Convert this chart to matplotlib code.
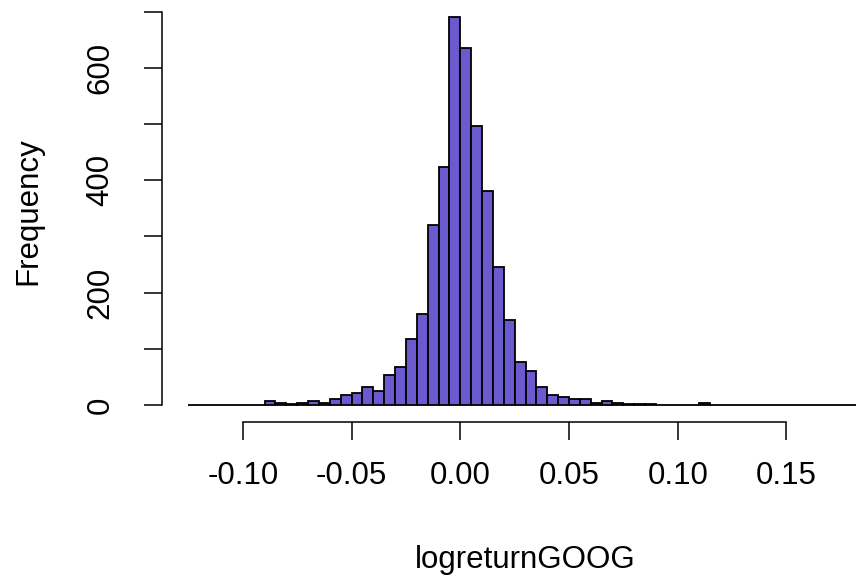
import numpy as np
import matplotlib
matplotlib.use("Agg")
import matplotlib.pyplot as plt

plt.rcParams['font.family'] = ['Liberation Sans', 'DejaVu Sans']

# Histogram bins (left edges) and counts
bin_width = 0.005
bin_start = -0.125
counts = [
    0, 0, 0, 0, 0, 0, 0,            # -0.125 .. -0.095
    7, 3, 2, 3, 7, 4, 11, 18, 21,   # -0.090 .. -0.050
    32, 25, 54, 68, 118, 162, 320, 424, 690,   # -0.045 .. -0.005
    636, 496, 381, 245, 151, 76, 61, 32, 18,   # 0.000 .. 0.040
    14, 11, 11, 4, 7, 3, 2, 2, 2,   # 0.045 .. 0.085
    0, 0, 0, 0, 3,                  # 0.090 .. 0.110
    0, 0, 0, 0, 0, 0, 0, 0, 0, 0, 0, 0, 0, 0,  # 0.115 .. 0.180
]
left_edges = bin_start + bin_width * np.arange(len(counts))

x_ticks = [-0.10, -0.05, 0.00, 0.05, 0.10, 0.15]
x_ticklabels = ["-0.10", "-0.05", "0.00", "0.05", "0.10", "0.15"]
y_ticks = [0, 100, 200, 300, 400, 500, 600, 700]
y_ticklabels = ["0", "", "200", "", "400", "", "600", ""]

W, H = 856, 581
fig = plt.figure(figsize=(W / 100, H / 100), dpi=100)
ax_left = 161.5
ax_w = 728
ax = fig.add_axes([ax_left / W, (H - 422) / H, ax_w / W, 422 / H])

ax.bar(left_edges, counts, width=bin_width, align='edge',
       color='#6A5ACD', edgecolor='black', linewidth=1.3)

ax.set_xlim(-0.1374, 0.1974)
ax.set_ylim(-30.3, 721)

for s in ['top', 'right']:
    ax.spines[s].set_visible(False)
ax.spines['left'].set_bounds(0, 700)
ax.spines['bottom'].set_bounds(-0.10, 0.15)
for s in ['left', 'bottom']:
    ax.spines[s].set_linewidth(1.1)

ax.set_xticks(x_ticks)
ax.set_xticklabels(x_ticklabels)
ax.set_yticks(y_ticks)
ax.set_yticklabels(y_ticklabels, rotation=90, va='center')
ax.tick_params(axis='both', length=13, width=1.1, labelsize=22.5, colors='black')
ax.tick_params(axis='x', pad=15)
ax.tick_params(axis='y', pad=20)

ax.set_xlabel("logreturnGOOG", fontsize=22.5)
ax.xaxis.set_label_coords((525 - ax_left) / ax_w, -(560 - 422) / 422)
ax.xaxis.label.set_va('center')
ax.set_ylabel("Frequency", fontsize=22.5)
ax.yaxis.set_label_coords(-(ax_left - 28) / ax_w, 0.5)
ax.yaxis.label.set_va('center')

fig.savefig("out.png", dpi=100)
